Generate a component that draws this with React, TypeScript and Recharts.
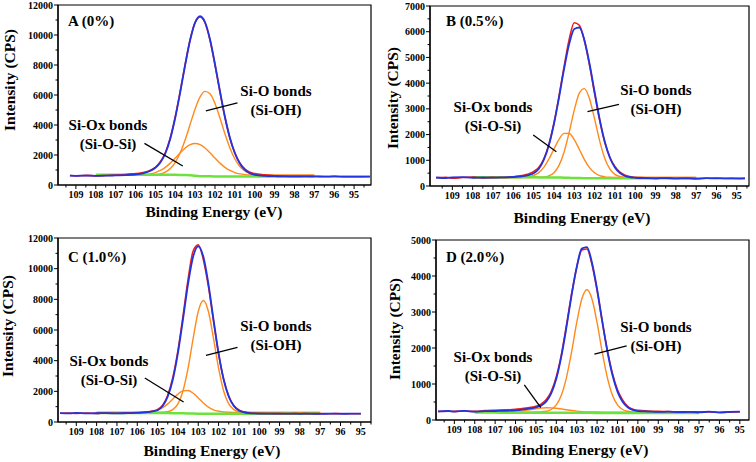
import { LineChart, Line, XAxis, YAxis, ReferenceLine, ReferenceArea } from 'recharts'

const FONT = '"Liberation Serif", "Times New Roman", serif'

// binding energy grid (eV), shared by all panels
const ENERGY = [109.8, 109.3, 109, 108.5, 108, 107.5, 107, 106.5, 106, 105.75, 105.5, 105.25, 105, 104.75, 104.5, 104.25, 104, 103.75, 103.5, 103.25, 103, 102.75, 102.5, 102.25, 102, 101.75, 101.5, 101.25, 101, 100.75, 100.5, 100.25, 100, 99.5, 99, 98.5, 98, 97.5, 97, 96.5, 96, 95.5, 95, 94.6, 94.2]
// fitted range used by the component peaks and the background
const FIT_ENERGY = [108, 107.5, 107, 106.5, 106, 105.75, 105.5, 105.25, 105, 104.75, 104.5, 104.25, 104, 103.75, 103.5, 103.25, 103, 102.75, 102.5, 102.25, 102, 101.75, 101.5, 101.25, 101, 100.75, 100.5, 100.25, 100, 99.5, 99, 98.5, 98, 97.5, 97]

const X_TICKS = [94.5, 95, 95.5, 96, 96.5, 97, 97.5, 98, 98.5, 99, 99.5, 100, 100.5, 101, 101.5, 102, 102.5, 103, 103.5, 104, 104.5, 105, 105.5, 106, 106.5, 107, 107.5, 108, 108.5, 109, 109.5]
const Y_TICKS_12K = [0, 1000, 2000, 3000, 4000, 5000, 6000, 7000, 8000, 9000, 10000, 11000, 12000]
const Y_TICKS_7K = [0, 500, 1000, 1500, 2000, 2500, 3000, 3500, 4000, 4500, 5000, 5500, 6000, 6500, 7000]
const Y_TICKS_5K = [0, 500, 1000, 1500, 2000, 2500, 3000, 3500, 4000, 4500, 5000]

// ---- A (0%)
const A_ENVELOPE = [null, 620, 610, 630, 615, 620, 640, 660, 700, 740, 820, 950, 1150, 1500, 2100, 3090, 4485, 6185, 8010, 9665, 10830, 11250, 10850, 9700, 8050, 6250, 4550, 3150, 2120, 1430, 1010, 790, 680, 610, 590, 575, 580, 570, 575, 560, 570, 560, 555, 565, 560]
const A_RAW = [null, 630, 600, 640, 610, 630, 660, 700, 760, 790, 860, 980, 1180, 1550, 2150, 3150, 4550, 6250, 8050, 9700, 10850, 11200, 10800, 9650, 8000, 6200, 4500, 3120, 2150, 1480, 1080, 860, 760, 680, 620, 590, 575, 580, 570, 565, 575, 560, 560, 560, 565]
const A_SIOH = [650, 650, 650, 650, 650, 651, 654, 662, 685, 740, 860, 1095, 1507, 2145, 3017, 4047, 5073, 5870, 6240, 6077, 5430, 4470, 3417, 2470, 1733, 1236, 937, 778, 701, 656, 650, 650, 650, 650, 650]
const A_SIOX = [650, 650, 650, 650, 650, 670, 695, 743, 830, 970, 1178, 1458, 1793, 2149, 2467, 2690, 2770, 2690, 2467, 2149, 1793, 1458, 1178, 970, 830, 743, 695, 670, 660, 650, 650, 650, 650, 650, 650]
const A_BACKGROUND = [690, 690, 688, 688, 686, 686, 685, 684, 683, 682, 680, 678, 676, 672, 665, 650, 615, 590, 580, 576, 574, 572, 572, 571, 571, 570, 570, 570, 570, 570, 570, 570, 570, 570, 570]

// ---- B (0.5%)
const B_ENVELOPE = [330, 310, 335, 345, 320, 330, 325, 335, 350, 365, 380, 420, 500, 662, 1012, 1586, 2410, 3443, 4552, 5517, 6107, 6163, 5672, 4765, 3665, 2603, 1730, 1108, 717, 499, 389, 340, 320, 305, 300, 310, 295, 300, 290, 305, 295, 300, 290, 300, null]
const B_RAW = [320, 340, 300, 330, 345, 315, 335, 330, 360, 390, 420, 470, 560, 720, 1050, 1620, 2450, 3500, 4650, 5700, 6350, 6250, 5650, 4700, 3600, 2550, 1700, 1120, 760, 540, 420, 370, 330, 320, 295, 305, 290, 310, 285, 300, 310, 290, 300, 295, null]
const B_SIOH = [330, 330, 330, 330, 330, 330, 330, 331, 333, 338, 347, 393, 517, 800, 1321, 2088, 2950, 3612, 3788, 3392, 2610, 1756, 1080, 662, 453, 368, 340, 333, 330, 330, 330, 330, 330, 330, 330]
const B_SIOX = [330, 330, 330, 330, 331, 332, 339, 358, 408, 519, 726, 1042, 1437, 1814, 2045, 2040, 1801, 1421, 1028, 715, 513, 405, 357, 338, 332, 330, 330, 330, 330, 330, 330, 330, 330, 330, 330]
const B_BACKGROUND = [340, 340, 339, 339, 338, 338, 337, 337, 336, 335, 334, 333, 331, 328, 324, 318, 312, 307, 304, 302, 301, 300, 300, 300, 300, 300, 300, 300, 300, 300, 300, 300, 300, 300, 300]

// ---- C (1.0%)
const C_ENVELOPE = [580, 560, 590, 560, 570, 575, 560, 580, 590, 610, 640, 690, 770, 1040, 1660, 2770, 4490, 6700, 9010, 10790, 11460, 10790, 9010, 6700, 4490, 2770, 1660, 1040, 750, 630, 580, 560, 550, 545, 540, 550, 535, 545, 530, 545, 535, 540, 545, null, null]
const C_RAW = [570, 590, 560, 580, 565, 590, 570, 600, 620, 640, 660, 720, 820, 1100, 1750, 2900, 4650, 6900, 9300, 11150, 11550, 10600, 8850, 6600, 4450, 2800, 1700, 1080, 790, 660, 600, 570, 560, 550, 545, 540, 550, 540, 545, 540, 550, 535, 540, null, null]
const C_SIOH = [630, 630, 630, 630, 630, 630, 630, 630, 632, 640, 676, 807, 1181, 2026, 3507, 5452, 7205, 7920, 7205, 5452, 3507, 2026, 1181, 807, 676, 640, 632, 630, 630, 630, 630, 630, 630, 630, 630]
const C_SIOX = [630, 630, 630, 630, 630, 630, 650, 688, 771, 931, 1182, 1503, 1821, 2032, 2053, 1876, 1570, 1242, 974, 797, 700, 655, 638, 630, 630, 630, 630, 630, 630, 630, 630, 630, 630, 630, 630]
const C_BACKGROUND = [585, 585, 584, 584, 583, 583, 582, 582, 581, 580, 579, 577, 574, 570, 560, 548, 540, 537, 535, 535, 535, 535, 535, 535, 535, 535, 535, 535, 535, 535, 535, 535, 535, 535, 535]

// ---- D (2.0%)
const D_ENVELOPE = [240, 250, 235, 255, 230, 245, 250, 255, 270, 280, 300, 320, 350, 400, 510, 740, 1145, 1773, 2584, 3468, 4247, 4760, 4800, 4370, 3636, 2758, 1924, 1255, 789, 505, 352, 279, 248, 235, 225, 230, 220, 225, 215, 230, 205, 225, 230, null, null]
const D_RAW = [235, 245, 240, 250, 240, 260, 270, 280, 300, 310, 330, 350, 380, 440, 560, 790, 1200, 1820, 2640, 3500, 4230, 4720, 4750, 4320, 3600, 2740, 1950, 1300, 840, 560, 380, 300, 270, 250, 240, 235, 225, 230, 220, 225, 215, 220, 225, null, null]
const D_SIOH = [220, 220, 220, 220, 220, 220, 220, 220, 221, 226, 242, 292, 420, 695, 1186, 1894, 2702, 3362, 3620, 3362, 2702, 1894, 1186, 695, 420, 292, 242, 226, 220, 220, 220, 220, 220, 220, 220]
const D_SIOX = [220, 220, 221, 224, 236, 249, 267, 288, 311, 329, 339, 338, 326, 306, 284, 263, 246, 234, 227, 223, 221, 220, 220, 220, 220, 220, 220, 220, 220, 220, 220, 220, 220, 220, 220]
const D_BACKGROUND = [205, 205, 205, 204, 204, 204, 203, 203, 203, 202, 202, 202, 201, 201, 200, 200, 199, 199, 198, 198, 197, 197, 197, 196, 196, 196, 196, 195, 195, 195, 195, 195, 195, 195, 195]

const BLUE = '#2233e0'
const RED = '#e8201c'
const ORANGE = '#ff8a1e'
const GREEN = '#6be33c'

type Pt = { x: number; y: number }

function buildRows(env: (number | null)[], raw: (number | null)[], oh: number[], ox: number[], bg: number[]) {
  return ENERGY.map((e, i) => {
    const k = FIT_ENERGY.indexOf(e)
    return {
      e,
      env: env[i],
      raw: raw[i],
      oh: k >= 0 ? oh[k] : null,
      ox: k >= 0 ? ox[k] : null,
      bg: k >= 0 ? bg[k] : null,
    }
  })
}

function XTick(props: any) {
  const { x, y, payload } = props
  const v = payload.value
  const major = Number.isInteger(v)
  return (
    <g>
      <line x1={x} x2={x} y1={y} y2={y + (major ? 4 : 2.5)} stroke="#000" strokeWidth={1} />
      {major && (
        <text x={x} y={y + 13} textAnchor="middle" fontFamily={FONT} fontWeight="bold" fontSize={10} fill="#000">
          {v}
        </text>
      )}
    </g>
  )
}

function YTick(props: any) {
  const { x, y, payload, step } = props
  const v = payload.value
  const major = v % step === 0
  return (
    <g>
      <line x1={x} x2={x - (major ? 4 : 2.5)} y1={y} y2={y} stroke="#000" strokeWidth={1} />
      {major && (
        <text x={x - 5} y={y} dy="0.35em" textAnchor="end" fontFamily={FONT} fontWeight="bold" fontSize={10} fill="#000">
          {v}
        </text>
      )}
    </g>
  )
}

function Tag({ x, y, size = 15, children, rotate = false, anchor = 'middle' }: any) {
  const tx = anchor === 'start' ? '0' : '-50%'
  return (
    <div
      style={{
        position: 'absolute',
        left: x,
        top: y,
        transform: `translate(${tx}, -50%)${rotate ? ' rotate(-90deg)' : ''}`,
        font: `bold ${size}px ${FONT}`,
        whiteSpace: 'nowrap',
        lineHeight: 1,
        color: '#000',
      }}
    >
      {children}
    </div>
  )
}

function Panel(p: {
  left: number
  top: number
  title: string
  rows: any[]
  xDomain: [number, number]
  yMax: number
  yTicks: number[]
  yStep: number
  yAxisWidth: number
  marginTop: number
  xAxisHeight: number
  ohPointer: [Pt, Pt]
  oxPointer: [Pt, Pt]
  ohText: [number, number]
  oxText: [number, number]
  xLabel: [number, number]
  yLabel: [number, number]
  titleY: number
}) {
  const xt = X_TICKS.filter((t) => t >= p.xDomain[0] && t <= p.xDomain[1])
  return (
    <div style={{ position: 'absolute', left: p.left, top: p.top, width: 378, height: 231 }}>
      <LineChart width={378} height={231} data={p.rows} margin={{ top: p.marginTop, right: 7, bottom: 0, left: 0 }}>
        <XAxis
          dataKey="e"
          type="number"
          domain={p.xDomain}
          reversed
          allowDataOverflow
          ticks={xt}
          interval={0}
          tickSize={0}
          tickMargin={0}
          tickLine={false}
          tick={(t: any) => <XTick {...t} />}
          height={p.xAxisHeight}
          axisLine={{ stroke: '#000', strokeWidth: 1.2 }}
        />
        <YAxis
          type="number"
          domain={[0, p.yMax]}
          allowDataOverflow
          ticks={p.yTicks}
          interval={0}
          tickSize={0}
          tickMargin={0}
          tickLine={false}
          tick={(t: any) => <YTick {...t} step={p.yStep} />}
          width={p.yAxisWidth}
          axisLine={{ stroke: '#000', strokeWidth: 1.2 }}
        />
        <ReferenceArea x1={p.xDomain[0]} x2={p.xDomain[1]} y1={0} y2={p.yMax} fill="none" stroke="#000" strokeWidth={1.2} strokeOpacity={1} fillOpacity={0} />
        <Line dataKey="ox" type="monotone" stroke={ORANGE} strokeWidth={1.4} dot={false} isAnimationActive={false} />
        <Line dataKey="oh" type="monotone" stroke={ORANGE} strokeWidth={1.4} dot={false} isAnimationActive={false} />
        <Line dataKey="bg" type="monotone" stroke={GREEN} strokeWidth={2.5} dot={false} isAnimationActive={false} />
        <Line dataKey="raw" type="monotone" stroke={RED} strokeWidth={1.6} dot={false} isAnimationActive={false} />
        <Line dataKey="env" type="monotone" stroke={BLUE} strokeWidth={1.8} dot={false} isAnimationActive={false} />
        <ReferenceLine segment={p.ohPointer} stroke="#000" strokeWidth={1.3} ifOverflow="visible" />
        <ReferenceLine segment={p.oxPointer} stroke="#000" strokeWidth={1.3} ifOverflow="visible" />
      </LineChart>
      <Tag x={68} y={p.titleY} anchor="start">{p.title}</Tag>
      <Tag x={p.ohText[0]} y={p.ohText[1]}>Si-O bonds</Tag>
      <Tag x={p.ohText[0]} y={p.ohText[1] + 19}>(Si-OH)</Tag>
      <Tag x={p.oxText[0]} y={p.oxText[1]}>Si-Ox bonds</Tag>
      <Tag x={p.oxText[0]} y={p.oxText[1] + 19}>(Si-O-Si)</Tag>
      <Tag x={p.xLabel[0]} y={p.xLabel[1]} size={15.5}>Binding Energy (eV)</Tag>
      <Tag x={p.yLabel[0]} y={p.yLabel[1]} size={15.5} rotate>Intensity (CPS)</Tag>
    </div>
  )
}

export default function App() {
  return (
    <div style={{ position: 'absolute', left: 0, top: 0, width: 756, height: 462, background: '#fff' }}>
      <Panel
        left={0}
        top={0}
        title="A (0%)"
        rows={buildRows(A_ENVELOPE, A_RAW, A_SIOH, A_SIOX, A_BACKGROUND)}
        xDomain={[94.15, 109.9]}
        yMax={12000}
        yTicks={Y_TICKS_12K}
        yStep={2000}
        yAxisWidth={58}
        marginTop={5}
        xAxisHeight={46}
        ohPointer={[{ x: 102.46, y: 4945 }, { x: 100.87, y: 5478 }]}
        oxPointer={[{ x: 105.55, y: 2775 }, { x: 103.62, y: 1265 }]}
        ohText={[276, 91]}
        oxText={[108, 125]}
        xLabel={[214, 212]}
        yLabel={[10, 80]}
        titleY={21}
      />
      <Panel
        left={378}
        top={0}
        title="B (0.5%)"
        rows={buildRows(B_ENVELOPE, B_RAW, B_SIOH, B_SIOX, B_BACKGROUND)}
        xDomain={[94.4, 110.1]}
        yMax={7000}
        yTicks={Y_TICKS_7K}
        yStep={1000}
        yAxisWidth={52}
        marginTop={6}
        xAxisHeight={45}
        ohPointer={[{ x: 102.35, y: 2889 }, { x: 100.8, y: 3177 }]}
        oxPointer={[{ x: 105.02, y: 1983 }, { x: 103.88, y: 1334 }]}
        ohText={[278, 90]}
        oxText={[115, 107]}
        xLabel={[204, 218]}
        yLabel={[15, 98]}
        titleY={21}
      />
      <Panel
        left={0}
        top={231}
        title="C (1.0%)"
        rows={buildRows(C_ENVELOPE, C_RAW, C_SIOH, C_SIOX, C_BACKGROUND)}
        xDomain={[94.5, 109.9]}
        yMax={12000}
        yTicks={Y_TICKS_12K}
        yStep={2000}
        yAxisWidth={58}
        marginTop={7}
        xAxisHeight={40}
        ohPointer={[{ x: 102.62, y: 4350 }, { x: 101.07, y: 4872 }]}
        oxPointer={[{ x: 105.63, y: 2870 }, { x: 103.72, y: 1304 }]}
        ohText={[276, 95]}
        oxText={[109, 130]}
        xLabel={[212, 220]}
        yLabel={[8, 95]}
        titleY={26}
      />
      <Panel
        left={378}
        top={231}
        title="D (2.0%)"
        rows={buildRows(D_ENVELOPE, D_RAW, D_SIOH, D_SIOX, D_BACKGROUND)}
        xDomain={[94.55, 109.9]}
        yMax={5000}
        yTicks={Y_TICKS_5K}
        yStep={1000}
        yAxisWidth={58}
        marginTop={9}
        xAxisHeight={42}
        ohPointer={[{ x: 102.13, y: 1828 }, { x: 100.55, y: 2059 }]}
        oxPointer={[{ x: 105.57, y: 974 }, { x: 104.76, y: 342 }]}
        ohText={[278, 96]}
        oxText={[115, 126]}
        xLabel={[202, 219]}
        yLabel={[17, 98]}
        titleY={26}
      />
    </div>
  )
}
